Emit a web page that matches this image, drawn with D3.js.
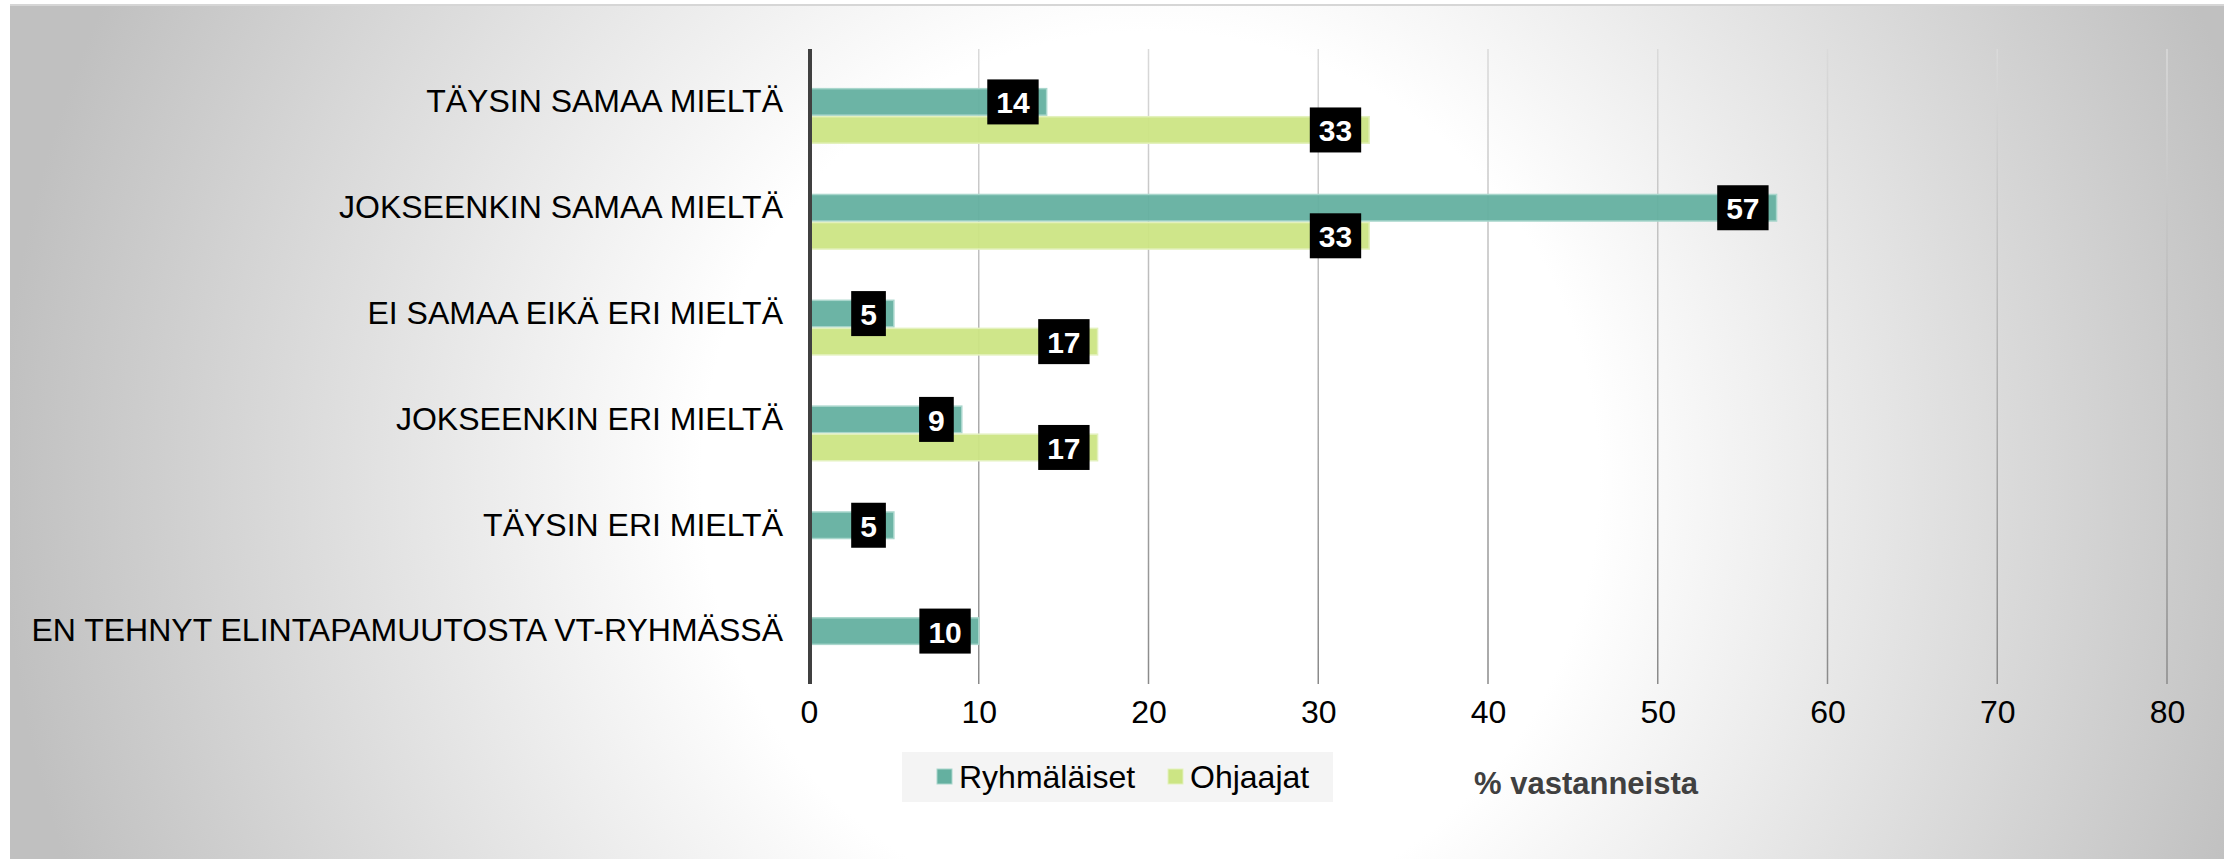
<!DOCTYPE html>
<html>
<head>
<meta charset="utf-8">
<script src="https://cdn.jsdelivr.net/npm/d3@7"></script>
<style>
  html, body { margin: 0; padding: 0; background: #ffffff; }
  svg { display: block; }
  text { font-family: "Liberation Sans", Arial, sans-serif; }
</style>
</head>
<body>
<svg id="chart" width="2224" height="859"></svg>
<script>
// ---- data ----
const categories = [
  "TÄYSIN SAMAA MIELTÄ",
  "JOKSEENKIN SAMAA MIELTÄ",
  "EI SAMAA EIKÄ ERI MIELTÄ",
  "JOKSEENKIN ERI MIELTÄ",
  "TÄYSIN ERI MIELTÄ",
  "EN TEHNYT ELINTAPAMUUTOSTA VT-RYHMÄSSÄ"
];
const seriesNames = ["Ryhmäläiset", "Ohjaajat"];
const ryhmalaiset = [14, 57, 5, 9, 5, 10];
const ohjaajat = [33, 33, 17, 17, null, null];
const xTicks = [0, 10, 20, 30, 40, 50, 60, 70, 80];
const seriesColors = ["#64b0a0", "#cce584"];
const seriesEdges = ["#a9d6cc", "#e3f1bd"];
const axisTitle = "% vastanneista";

// ---- layout ----
const W = 2224, H = 859;
const svg = d3.select("#chart");
const defs = svg.append("defs");

const bg = defs.append("radialGradient").attr("id", "bgGrad")
  .attr("gradientUnits", "userSpaceOnUse")
  .attr("cx", 1150).attr("cy", 480).attr("r", 1150);
bg.append("stop").attr("offset", "0").attr("stop-color", "#ffffff");
bg.append("stop").attr("offset", "0.39").attr("stop-color", "#ffffff");
bg.append("stop").attr("offset", "1").attr("stop-color", "#c0c0c0");

const plotTop = 49, plotBottom = 684;
const gg = defs.append("linearGradient").attr("id", "gridGrad")
  .attr("gradientUnits", "userSpaceOnUse")
  .attr("x1", 0).attr("y1", plotTop).attr("x2", 0).attr("y2", plotBottom);
gg.append("stop").attr("offset", "0").attr("stop-color", "#dadada");
gg.append("stop").attr("offset", "1").attr("stop-color", "#8a8a8a");

svg.append("rect").attr("x", 10).attr("y", 4).attr("width", W - 10).attr("height", H - 4)
  .attr("fill", "url(#bgGrad)");
svg.append("line").attr("x1", 10).attr("x2", W).attr("y1", 5).attr("y2", 5)
  .attr("stroke", "#d6d6d6").attr("stroke-width", 2);

const x = d3.scaleLinear().domain([0, 80]).range([809, 2167]);
const y = d3.scaleBand().domain(categories).range([plotTop, plotBottom]).padding(0);
const barH = y.bandwidth() * 0.265;
const sub = d3.scaleBand().domain(seriesNames).range([-barH / 2, barH * 1.5]).padding(0);

// gridlines
svg.append("g").selectAll("line").data(xTicks.filter(d => d > 0)).join("line")
  .attr("x1", d => x(d)).attr("x2", d => x(d))
  .attr("y1", plotTop).attr("y2", plotBottom)
  .attr("stroke", "url(#gridGrad)").attr("stroke-width", 1.5);

// bars
const rows = [];
categories.forEach((c, i) => {
  [ryhmalaiset[i], ohjaajat[i]].forEach((v, s) => {
    if (v != null) rows.push({ cat: c, series: seriesNames[s], s, value: v });
  });
});

const barG = svg.append("g");
barG.selectAll("rect").data(rows).join("rect")
  .attr("x", x(0))
  .attr("y", d => y(d.cat) + y.bandwidth() / 2 + sub(d.series) + 0.75)
  .attr("width", d => x(d.value) - x(0))
  .attr("height", sub.bandwidth() - 1.5)
  .attr("fill", d => seriesColors[d.s])
  .attr("fill-opacity", 0.95)
  .attr("stroke", d => seriesEdges[d.s])
  .attr("stroke-width", 1.5);

// value labels
const labG = svg.append("g");
rows.forEach(d => {
  const cy = y(d.cat) + y.bandwidth() / 2 + sub(d.series) + sub.bandwidth() / 2;
  const g = labG.append("g");
  const t = g.append("text")
    .attr("text-anchor", "middle")
    .attr("dominant-baseline", "central")
    .attr("font-weight", "bold")
    .attr("font-size", 30)
    .attr("fill", "#ffffff")
    .text(d.value);
  const tw = t.node().getComputedTextLength();
  const bw = tw + 18, bh = 45;
  const right = x(d.value) - 8;
  g.insert("rect", "text")
    .attr("x", right - bw).attr("y", cy - bh / 2)
    .attr("width", bw).attr("height", bh)
    .attr("fill", "#000000");
  t.attr("x", right - bw / 2).attr("y", cy + 1);
});

// category axis (left)
const yAxis = svg.append("g").attr("transform", `translate(${x(0) + 1},0)`)
  .call(d3.axisLeft(y).tickSize(0).tickPadding(27));
yAxis.select(".domain").remove();
yAxis.selectAll("text").attr("font-size", 32).attr("fill", "#000000")
  .attr("font-family", "'Liberation Sans', Arial, sans-serif");

svg.append("line").attr("x1", x(0) + 1).attr("x2", x(0) + 1)
  .attr("y1", plotTop).attr("y2", plotBottom)
  .attr("stroke", "#404040").attr("stroke-width", 4);

// value axis (bottom)
const xAxis = svg.append("g").attr("transform", `translate(0,${plotBottom})`)
  .call(d3.axisBottom(x).tickValues(xTicks).tickSize(0).tickPadding(16));
xAxis.select(".domain").remove();
xAxis.selectAll("text").attr("font-size", 32).attr("fill", "#000000")
  .attr("font-family", "'Liberation Sans', Arial, sans-serif");

// legend
const leg = svg.append("g");
leg.append("rect").attr("x", 902).attr("y", 752).attr("width", 431).attr("height", 50)
  .attr("fill", "#f4f4f4");
const legX = [937, 1168];
seriesNames.forEach((n, i) => {
  leg.append("rect").attr("x", legX[i]).attr("y", 769).attr("width", 15).attr("height", 15)
    .attr("fill", seriesColors[i]).attr("stroke", seriesEdges[i]).attr("stroke-width", 1);
  leg.append("text").attr("x", legX[i] + 22).attr("y", 788)
    .attr("font-size", 32).attr("fill", "#000000").text(n);
});

// axis title
svg.append("text").attr("x", 1474).attr("y", 794)
  .attr("font-size", 31).attr("font-weight", "bold").attr("fill", "#404040")
  .text(axisTitle);
</script>
</body>
</html>
